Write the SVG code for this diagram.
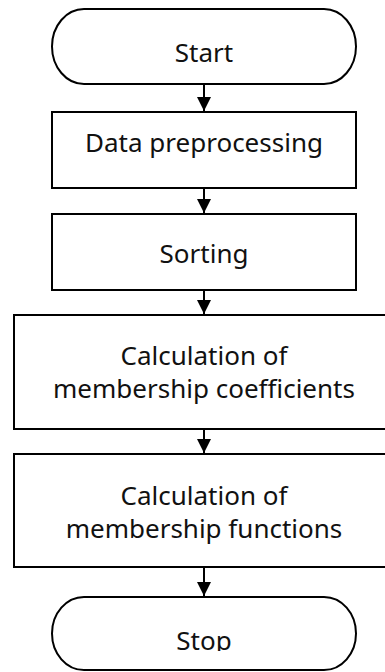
<svg xmlns="http://www.w3.org/2000/svg" width="385" height="672" viewBox="0 0 385 672">
<style>
.n{fill:#fff;stroke:#000;stroke-width:2}
.t{font-family:"Noto Sans","Open Sans",sans-serif;font-size:26px;fill:#111;text-anchor:middle}
.c{stroke:#000;stroke-width:2;fill:none}
</style>
<defs>
<marker id="ah" markerUnits="userSpaceOnUse" markerWidth="14" markerHeight="14" viewBox="0 0 14 14" refX="7" refY="14" orient="0">
<path d="M0,0 L14,0 L7,14 Z" fill="#000"/>
</marker>
<clipPath id="clipStop"><rect x="0" y="590" width="385" height="61"/></clipPath>
</defs>
<rect width="385" height="672" fill="#fff"/>
<g id="connectors">
<line class="c" x1="204" y1="84" x2="204" y2="111" marker-end="url(#ah)"/>
<line class="c" x1="204" y1="188" x2="204" y2="213" marker-end="url(#ah)"/>
<line class="c" x1="204" y1="290" x2="204" y2="314" marker-end="url(#ah)"/>
<line class="c" x1="204" y1="429" x2="204" y2="453" marker-end="url(#ah)"/>
<line class="c" x1="204" y1="567" x2="204" y2="596" marker-end="url(#ah)"/>
</g>
<g id="start">
<rect class="n" x="52" y="9" width="304" height="75" rx="32" ry="37.5"/>
<text class="t" x="204" y="62">Start</text>
</g>
<g id="preprocessing">
<rect class="n" x="52" y="112" width="304" height="76"/>
<text class="t" x="204" y="152">Data preprocessing</text>
</g>
<g id="sorting">
<rect class="n" x="52" y="214" width="304" height="76"/>
<text class="t" x="204" y="263">Sorting</text>
</g>
<g id="coefficients">
<rect class="n" x="14" y="315" width="380" height="114"/>
<text class="t" x="204" y="365">Calculation of</text>
<text class="t" x="204" y="398">membership coefficients</text>
</g>
<g id="functions">
<rect class="n" x="14" y="454" width="380" height="113"/>
<text class="t" x="204" y="505">Calculation of</text>
<text class="t" x="204" y="538">membership functions</text>
</g>
<g id="stop">
<rect class="n" x="52" y="597" width="304" height="73" rx="32" ry="36.5"/>
<text class="t" x="204" y="650" clip-path="url(#clipStop)">Stop</text>
</g>
</svg>
